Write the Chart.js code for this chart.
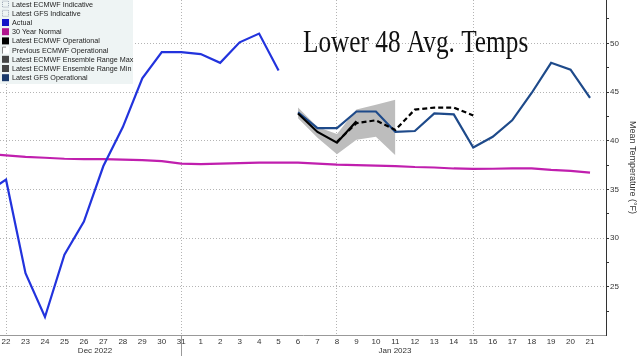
<!DOCTYPE html>
<html><head><meta charset="utf-8">
<script src="https://cdn.jsdelivr.net/npm/chart.js@4/dist/chart.umd.min.js"></script>
<style>html,body{margin:0;padding:0;background:#fff;overflow:hidden}#wrap{width:640px;height:356px;position:relative}</style>
</head><body><div id="wrap"><canvas id="c" width="640" height="356"></canvas></div>
<script>
// Day labels Dec 21 2022 .. Jan 21 2023 (index 0 = Dec 21)
const dayLabels = ['21','22','23','24','25','26','27','28','29','30','31','1','2','3','4','5','6','7','8','9','10','11','12','13','14','15','16','17','18','19','20','21'];
const monthLabels = ['Dec 2022', 'Jan 2023'];
const monthCenters = [5.57, 20.98];
const gridDays = [1, 10, 18, 25];
const yTicks = [22.5, 25, 27.5, 30, 32.5, 35, 37.5, 40, 42.5, 45, 47.5, 50, 52.5];
const titleText = 'Lower 48 Avg. Temps';
const yTitle = 'Mean Temperature (°F)';

// Actual: Dec 21 .. Jan 5
const actual = [34.7, 36.0, 26.4, 21.9, 28.3, 31.7, 37.4, 41.4, 46.4, 49.1, 49.1, 48.9, 48.0, 50.1, 51.0, 47.2];
// 30 Year Normal: Dec 21 .. Jan 21
const normal = [38.65, 38.5, 38.35, 38.25, 38.15, 38.1, 38.1, 38.05, 38.0, 37.9, 37.65, 37.6, 37.65, 37.7, 37.75, 37.75, 37.75, 37.65, 37.55, 37.5, 37.45, 37.4, 37.3, 37.25, 37.15, 37.1, 37.12, 37.15, 37.15, 37.0, 36.9, 36.72];
// Latest GFS Operational: Jan 6 .. Jan 21
const gfsOp = [42.9, 41.3, 41.3, 43.0, 43.0, 40.9, 41.0, 42.8, 42.7, 39.3, 40.4, 42.1, 44.9, 48.0, 47.3, 44.4];
// Latest ECMWF Operational: Jan 6 .. Jan 9
const ecmwfOp = [42.8, 40.9, 39.8, 42.0];
// Previous ECMWF Operational: Jan 8 .. Jan 15
const prevEcmwfOp = [39.9, 41.8, 42.1, 41.1, 43.2, 43.4, 43.4, 42.6];
// Ensemble range: Jan 6 .. Jan 11
const ensMax = [43.4, 41.4, 40.7, 43.2, 43.7, 44.2];
const ensMin = [42.3, 40.3, 38.6, 40.1, 40.4, 38.5];

const legendLabels = ['Latest ECMWF Indicative','Latest GFS Indicative','Actual','30 Year Normal','Latest ECMWF Operational','Previous ECMWF Operational','Latest ECMWF Ensemble Range Max','Latest ECMWF Ensemble Range Min','Latest GFS Operational'];
const legendColors = [null, null, '#1414c8', '#b0148e', '#000000', 'dash', '#444444', '#444444', '#1b3a6b'];

const START_ACTUAL = 0, START_FCST = 16, START_PREV = 18;
const pts = (arr, start) => arr.map((v, i) => ({x: start + i, y: v}));

const XMIN = 0.69, XMAX = 31.82;
const FONT = '"Liberation Sans", Arial, sans-serif';
const GRID = '#b4b4b4';

const overlay = {
  id: 'overlay',
  afterDraw(chart) {
    const ctx = chart.ctx;
    ctx.save();
    // legend box
    ctx.fillStyle = '#eef4f4';
    ctx.fillRect(0, 0, 133, 84);
    ctx.font = '7.2px ' + FONT;
    ctx.textBaseline = 'middle';
    legendLabels.forEach((lab, i) => {
      const cy = 4.6 + i * 9.2;
      const c = legendColors[i];
      if (c === null) {
        ctx.setLineDash([1, 1]);
        ctx.strokeStyle = '#9aa4b4';
        ctx.lineWidth = 1;
        ctx.strokeRect(2.5, cy - 3.5, 6, 6);
        ctx.setLineDash([]);
      } else if (c === 'dash') {
        ctx.fillStyle = '#ffffff';
        ctx.fillRect(2, cy - 4, 7, 7);
        ctx.strokeStyle = '#888';
        ctx.lineWidth = 1;
        ctx.beginPath();
        ctx.moveTo(2.5, cy + 3); ctx.lineTo(2.5, cy - 3.5); ctx.lineTo(6, cy - 3.5);
        ctx.stroke();
      } else {
        ctx.fillStyle = c;
        ctx.fillRect(2, cy - 4, 7, 7);
      }
      ctx.fillStyle = '#222';
      ctx.fillText(lab, 12, cy);
    });
    // title
    ctx.save();
    ctx.translate(303, 52);
    ctx.scale(0.79, 1);
    ctx.font = '32px "Liberation Serif", "Times New Roman", serif';
    ctx.fillStyle = '#111';
    ctx.textBaseline = 'alphabetic';
    ctx.fillText(titleText, 0, 0);
    ctx.restore();
    ctx.restore();
  }
};

const line = (label, data, color, extra) => Object.assign({
  label, data, borderColor: color, backgroundColor: color, borderWidth: 2.2,
  pointRadius: 0, fill: false, tension: 0
}, extra || {});

new Chart(document.getElementById('c'), {
  type: 'line',
  data: {
    datasets: [
      line('Actual', pts(actual, START_ACTUAL), '#2233dd'),
      line('30 Year Normal', pts(normal, START_ACTUAL), '#c01fae'),
      line('Latest ECMWF Operational', pts(ecmwfOp, START_FCST), '#000000'),
      line('Previous ECMWF Operational', pts(prevEcmwfOp, START_PREV), '#000000', {borderDash: [5, 3]}),
      line('Latest GFS Operational', pts(gfsOp, START_FCST), '#1e4a8a'),
      line('Latest ECMWF Ensemble Range Max', pts(ensMax, START_FCST), 'rgba(0,0,0,0)', {borderWidth: 0, fill: '+1', backgroundColor: '#bdbdbd'}),
      line('Latest ECMWF Ensemble Range Min', pts(ensMin, START_FCST), 'rgba(0,0,0,0)', {borderWidth: 0})
    ]
  },
  options: {
    responsive: false,
    animation: false,
    devicePixelRatio: 1,
    layout: {padding: 0},
    plugins: {legend: {display: false}, title: {display: false}, tooltip: {enabled: false}},
    scales: {
      x: {
        type: 'linear', position: 'bottom', min: XMIN, max: XMAX, weight: 0,
        afterBuildTicks: s => { s.ticks = dayLabels.map((_, k) => ({value: k})).filter(t => t.value >= XMIN && t.value <= XMAX); },
        ticks: {autoSkip: false, maxRotation: 0, font: {family: FONT, size: 8}, color: '#333', padding: -19,
          callback: v => dayLabels[v]},
        grid: {
          color: c => (c.tick && gridDays.includes(c.tick.value)) ? GRID : 'rgba(0,0,0,0)',
          tickColor: c => (c.tick && c.tick.value === 10) ? '#999' : 'rgba(0,0,0,0)',
          tickLength: 21, lineWidth: 1
        },
        border: {color: '#999', width: 1, dash: [1, 2]},
        afterFit: s => { s.height = 11; s.paddingLeft = 0; s.paddingRight = 0; }
      },
      x2: {
        type: 'linear', position: 'bottom', min: XMIN, max: XMAX, weight: 1,
        afterBuildTicks: s => { s.ticks = monthCenters.map(v => ({value: v})); },
        ticks: {autoSkip: false, maxRotation: 0, font: {family: FONT, size: 8}, color: '#333', padding: 0,
          callback: (v, i) => monthLabels[i]},
        grid: {display: false, drawTicks: false},
        border: {display: false},
        afterFit: s => { s.height = 10; s.paddingLeft = 0; s.paddingRight = 0; }
      },
      y: {
        type: 'linear', position: 'right', min: 20.05, max: 54.45,
        afterBuildTicks: s => { s.ticks = yTicks.map(v => ({value: v})); },
        ticks: {autoSkip: false, font: {family: FONT, size: 8}, color: '#333', padding: 1,
          callback: v => (v % 5 === 0 ? String(v) : '')},
        grid: {
          color: c => (c.tick && c.tick.value % 5 === 0) ? GRID : 'rgba(0,0,0,0)',
          tickColor: '#333', tickLength: 3, lineWidth: 1
        },
        border: {color: '#333', width: 1, dash: [1, 2]},
        title: {display: true, text: yTitle, font: {family: FONT, size: 9}, color: '#333', padding: {top: 2, bottom: 0}},
        afterFit: s => { s.width = 34; s.paddingTop = 0; s.paddingBottom = 0; }
      }
    }
  },
  plugins: [overlay]
});
</script>
</body></html>
